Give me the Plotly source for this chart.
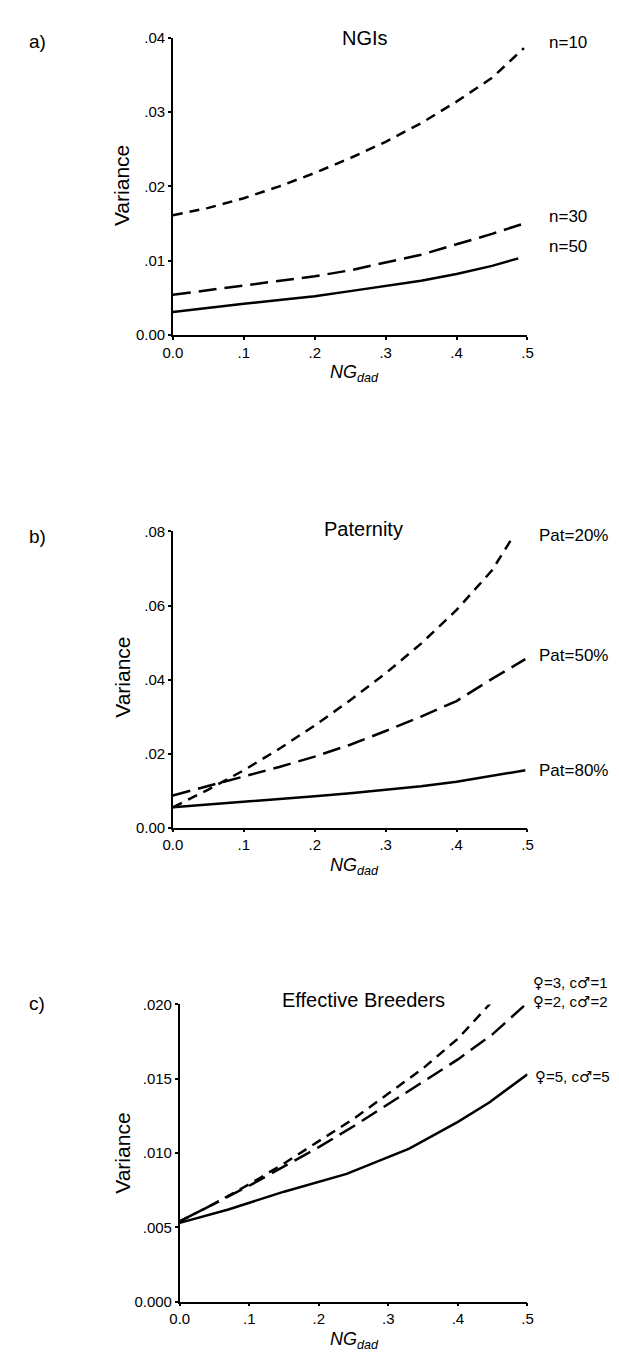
import plotly.graph_objects as go

W, H = 619, 1352
FONT = "Liberation Sans, Arial, Helvetica, sans-serif"

# ---------------- data ----------------
# Panel a) NGIs
a_x = [0, 0.05, 0.1, 0.15, 0.2, 0.25, 0.3, 0.35, 0.4, 0.45, 0.495]
a_n10 = [0.0161, 0.0171, 0.0184, 0.0200, 0.0218, 0.0238, 0.0260, 0.0285, 0.0314, 0.0346, 0.0386]
a_n30 = [0.0054, 0.0060, 0.0067, 0.0073, 0.0079, 0.0087, 0.0097, 0.0108, 0.0122, 0.0136, 0.0150]
a_x50 = [0, 0.05, 0.1, 0.15, 0.2, 0.25, 0.3, 0.35, 0.4, 0.45, 0.487]
a_n50 = [0.0031, 0.0036, 0.0042, 0.0047, 0.0052, 0.0059, 0.0066, 0.0073, 0.0082, 0.0093, 0.0103]

# Panel b) Paternity
b_x20 = [0, 0.05, 0.1, 0.15, 0.2, 0.25, 0.3, 0.35, 0.4, 0.45, 0.481]
b_p20 = [0.0055, 0.0103, 0.0155, 0.0213, 0.0276, 0.0344, 0.0417, 0.0497, 0.0588, 0.0695, 0.0790]
b_x = [0, 0.05, 0.1, 0.15, 0.2, 0.25, 0.3, 0.35, 0.4, 0.45, 0.497]
b_p50 = [0.0087, 0.0112, 0.0138, 0.0164, 0.0192, 0.0224, 0.0261, 0.0300, 0.0342, 0.0402, 0.0455]
b_p80 = [0.0055, 0.0062, 0.0070, 0.0077, 0.0085, 0.0093, 0.0102, 0.0112, 0.0124, 0.0139, 0.0155]

# Panel c) Effective breeders
c_x31 = [0, 0.05, 0.1, 0.15, 0.2, 0.25, 0.3, 0.35, 0.4, 0.465]
c_f3c1 = [0.0054, 0.0066, 0.0079, 0.0093, 0.0108, 0.0123, 0.0140, 0.0157, 0.0177, 0.0210]
c_x22 = [0, 0.05, 0.1, 0.15, 0.2, 0.25, 0.3, 0.35, 0.4, 0.45, 0.495]
c_f2c2 = [0.0054, 0.0066, 0.0078, 0.0091, 0.0104, 0.0118, 0.0133, 0.0148, 0.0163, 0.0180, 0.0199]
c_x55 = [0, 0.07, 0.15, 0.24, 0.33, 0.4, 0.445, 0.5]
c_f5c5 = [0.0053, 0.0062, 0.0074, 0.0086, 0.0103, 0.0121, 0.0134, 0.0153]

x_ticks = [0, 0.1, 0.2, 0.3, 0.4, 0.5]
x_ticktext = ["0.0", ".1", ".2", ".3", ".4", ".5"]
a_yticks = [0, 0.01, 0.02, 0.03, 0.04]
a_yticktext = ["0.00", ".01", ".02", ".03", ".04"]
b_yticks = [0, 0.02, 0.04, 0.06, 0.08]
b_yticktext = ["0.00", ".02", ".04", ".06", ".08"]
c_yticks = [0, 0.005, 0.010, 0.015, 0.020]
c_yticktext = ["0.000", ".005", ".010", ".015", ".020"]

# ---------------- helpers ----------------
def px(x):
    return x / W

def py(y):
    return 1 - y / H

SHORT = "10px,7px"
LONG = "18px,8px"
LW = 2.5

fig = go.Figure()

def add_line(x, y, dash, ax):
    fig.add_trace(go.Scatter(x=x, y=y, mode="lines",
                             line=dict(color="black", width=LW, dash=dash),
                             xaxis="x" + ax, yaxis="y" + ax,
                             showlegend=False, hoverinfo="skip"))

add_line(a_x, a_n10, SHORT, "")
add_line(a_x, a_n30, LONG, "")
add_line(a_x50, a_n50, "solid", "")

add_line(b_x20, b_p20, SHORT, "2")
add_line(b_x, b_p50, LONG, "2")
add_line(b_x, b_p80, "solid", "2")

add_line(c_x31, c_f3c1, SHORT, "3")
add_line(c_x22, c_f2c2, LONG, "3")
add_line(c_x55, c_f5c5, "solid", "3")

def xaxis(domain, anchor):
    return dict(domain=domain, anchor=anchor, range=[0, 0.5],
                tickmode="array", tickvals=x_ticks, ticktext=x_ticktext,
                showline=True, linecolor="black", linewidth=1.5,
                ticks="outside", ticklen=3, tickwidth=2, tickcolor="black",
                showgrid=False, zeroline=False,
                tickfont=dict(family=FONT, size=15, color="black"))

def yaxis(domain, anchor, rng, tv, tt):
    return dict(domain=domain, anchor=anchor, range=rng,
                tickmode="array", tickvals=tv, ticktext=tt,
                showline=True, linecolor="black", linewidth=1.5,
                ticks="outside", ticklen=3, tickwidth=2, tickcolor="black",
                showgrid=False, zeroline=False,
                tickfont=dict(family=FONT, size=15, color="black"))

fig.update_layout(
    width=W, height=H, autosize=False,
    margin=dict(l=0, r=0, t=0, b=0),
    paper_bgcolor="white", plot_bgcolor="white",
    xaxis=xaxis([px(159), px(523)], "y"),
    yaxis=yaxis([py(322), py(21)], "x", [0, 0.04], a_yticks, a_yticktext),
    xaxis2=xaxis([px(159), px(523)], "y2"),
    yaxis2=yaxis([py(821), py(521)], "x2", [0, 0.08], b_yticks, b_yticktext),
    xaxis3=xaxis([px(166), px(523)], "y3"),
    yaxis3=yaxis([py(1301), py(1000)], "x3", [0, 0.020], c_yticks, c_yticktext),
)

anns = []
def ann(text, x, y, size, xanchor="center", angle=0, font=FONT):
    anns.append(dict(text=text, x=px(x), y=py(y), xref="paper", yref="paper",
                     showarrow=False, xanchor=xanchor, yanchor="middle",
                     textangle=angle,
                     font=dict(family=font, size=size, color="black")))

# panel letters
ann("a)", 20, 25, 19)
ann("b)", 20, 526, 19)
ann("c)", 20, 999, 19)
# titles
ann("NGIs", 356, 21, 20)
ann("Paternity", 355, 519, 20)
ann("Effective Breeders", 355, 996, 20)
# y titles
ann("Variance", 107, 171, 21, angle=-90)
ann("Variance", 107, 669, 21, angle=-90)
ann("Variance", 107, 1151, 21, angle=-90)
# x titles
xt = "<i>NG<sub>dad</sub></i>"
ann(xt, 345, 361, 18)
ann(xt, 345, 860, 18)
ann(xt, 345, 1340, 18)
# curve labels
ann("n=10", 543, 26, 17, "left")
ann("n=30", 543, 202, 17, "left")
ann("n=50", 543, 232, 17, "left")
ann("Pat=20%", 533, 525, 17, "left")
ann("Pat=50%", 533, 647, 17, "left")
ann("Pat=80%", 533, 763, 17, "left")

FEM = "<span style=\"font-family:'DejaVu Sans'\">♀</span>"
MAL = "<span style=\"font-family:'DejaVu Sans'\">♂</span>"
ann(f"{FEM}=3, c{MAL}=1", 527, 978, 15, "left")
ann(f"{FEM}=2, c{MAL}=2", 527, 998, 15, "left")
ann(f"{FEM}=5, c{MAL}=5", 529, 1073, 15, "left")

fig.update_layout(annotations=anns)
fig.write_html("out.html")
